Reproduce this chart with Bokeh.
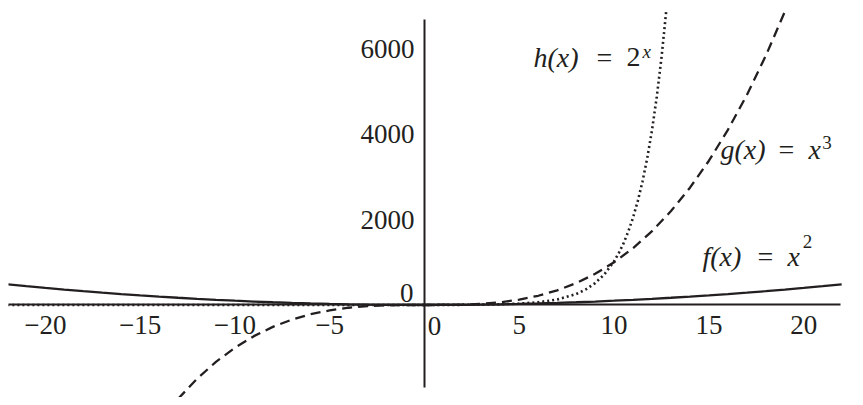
from bokeh.plotting import figure
from bokeh.models import Range1d, FixedTicker, Label
from bokeh.embed import file_html
from bokeh.resources import INLINE

# f(x) = x^2
f_x = list(range(-22, 23))
f_y = [484, 441, 400, 361, 324, 289, 256, 225, 196, 169, 144, 121, 100, 81, 64, 49,
       36, 25, 16, 9, 4, 1, 0, 1, 4, 9, 16, 25, 36, 49, 64, 81, 100, 121, 144, 169,
       196, 225, 256, 289, 324, 361, 400, 441, 484]

# g(x) = x^3
g_x = list(range(-13, 20))
g_y = [-2197, -1728, -1331, -1000, -729, -512, -343, -216, -125, -64, -27, -8, -1,
       0, 1, 8, 27, 64, 125, 216, 343, 512, 729, 1000, 1331, 1728, 2197, 2744, 3375,
       4096, 4913, 5832, 6859]

# h(x) = 2^x
h_x = [-22, -10, -5, 0, 1, 2, 3, 4, 5, 6, 7, 8, 8.5, 9, 9.5, 10, 10.25, 10.5, 10.75,
       11, 11.25, 11.5, 11.75, 12, 12.25, 12.5, 12.75]
h_y = [0, 0.001, 0.03, 1, 2, 4, 8, 16, 32, 64, 128, 256, 362, 512, 724, 1024, 1218,
       1448, 1722, 2048, 2436, 2896, 3444, 4096, 4871, 5793, 6889]

x_ticks = [-20, -15, -10, -5, 5, 10, 15, 20]
x_tick_labels = ["−20", "−15", "−10", "−5", "5", "10", "15", "20"]
y_ticks = [2000, 4000, 6000]
y_tick_labels = ["2000", "4000", "6000"]

INK = "#231f20"
FONT = "Liberation Serif"

p = figure(width=855, height=397, x_range=Range1d(-21.94, 22.73),
           y_range=Range1d(-2164, 6936), output_backend="svg",
           toolbar_location=None, min_border=0,
           min_border_left=8, min_border_top=8)
p.outline_line_color = None
p.xgrid.grid_line_color = None
p.ygrid.grid_line_color = None

p.line(f_x, f_y, line_color=INK, line_width=2.3)
p.line(g_x, g_y, line_color=INK, line_width=2.3, line_dash="10 6")
p.line(h_x, h_y, line_color=INK, line_width=2.6, line_dash="2 3")

for ax in (p.xaxis[0], p.yaxis[0]):
    ax.fixed_location = 0
    ax.axis_line_color = INK
    ax.axis_line_width = 2
    ax.major_tick_line_color = None
    ax.minor_tick_line_color = None
    ax.major_tick_out = 0
    ax.major_tick_in = 0
    ax.minor_tick_out = 0
    ax.major_label_text_font = FONT
    ax.major_label_text_font_size = "27px"
    ax.major_label_text_color = INK

p.xaxis[0].ticker = FixedTicker(ticks=x_ticks)
p.xaxis[0].major_label_overrides = dict(zip(x_ticks, x_tick_labels))
p.xaxis[0].bounds = (-22.2, 21.95)
p.xaxis[0].major_label_standoff = 11
p.yaxis[0].ticker = FixedTicker(ticks=y_ticks)
p.yaxis[0].major_label_overrides = dict(zip(y_ticks, y_tick_labels))
p.yaxis[0].bounds = (-1930, 6680)
p.yaxis[0].major_label_standoff = 10


def lab(x, y, text, size="28px", style="normal", align="left"):
    p.add_layout(Label(x=x, y=y, text=text, text_font=FONT, text_font_size=size,
                       text_font_style=style, text_color=INK, text_align=align,
                       text_baseline="alphabetic"))


# origin labels
lab(-0.58, 269, "0", size="27px", align="right")
lab(0.53, -494, "0", size="27px", align="center")

# h(x) = 2^x
lab(5.75, 5790, "h(x)", style="italic")
lab(9.07, 5790, "=")
lab(10.65, 5790, "2")
lab(11.50, 5920, "x", size="19px", style="italic")
# g(x) = x^3
lab(15.61, 3637, "g(x)", style="italic")
lab(18.67, 3637, "=")
lab(20.25, 3637, "x", style="italic")
lab(20.98, 3810, "3", size="19px")
# f(x) = x^2
lab(14.66, 1135, "f(x)", style="italic")
lab(17.56, 1135, "=")
lab(19.15, 1135, "x", style="italic")
lab(19.95, 1495, "2", size="19px")

open("out.html", "w").write(file_html(p, INLINE))
